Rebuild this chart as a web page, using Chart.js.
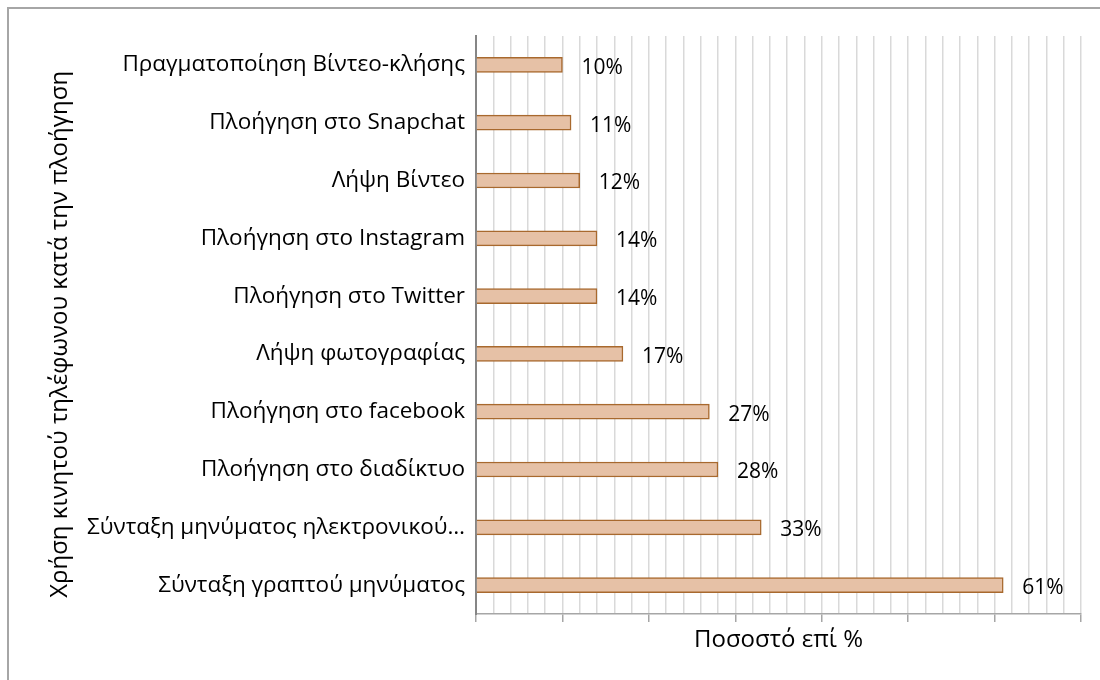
<!DOCTYPE html>
<html>
<head>
<meta charset="utf-8">
<script src="https://cdn.jsdelivr.net/npm/chart.js@4.4.1/dist/chart.umd.min.js"></script>
<style>
    body { margin: 0; background: #fff; }
    #wrap { position: relative; width: 1100px; height: 680px; overflow: hidden; }
    #frame { position: absolute; left: 7px; top: 7px; width: 1200px; height: 800px;
             border-left: 2px solid #a6a6a6; border-top: 2px solid #a6a6a6; pointer-events: none; }
</style>
</head>
<body>
<div id="wrap">
    <canvas id="chart" width="1100" height="680"></canvas>
    <div id="frame"></div>
</div>
<script>
const categories = [
    'Πραγματοποίηση Βίντεο-κλήσης',
    'Πλοήγηση στο Snapchat',
    'Λήψη Βίντεο',
    'Πλοήγηση στο Instagram',
    'Πλοήγηση στο Twitter',
    'Λήψη φωτογραφίας',
    'Πλοήγηση στο facebook',
    'Πλοήγηση στο διαδίκτυο',
    'Σύνταξη μηνύματος ηλεκτρονικού…',
    'Σύνταξη γραπτού μηνύματος'
];
const percentages = [10, 11, 12, 14, 14, 17, 27, 28, 33, 61];
const xMin = 0, xMax = 70, gridStep = 2, tickEvery = 10;

const FONT = "'Open Sans', sans-serif";

// percentage labels to the right of each bar
const valueLabels = {
    id: 'valueLabels',
    afterDatasetsDraw(chart) {
        const ctx = chart.ctx;
        const meta = chart.getDatasetMeta(0);
        ctx.save();
        ctx.font = '21px ' + FONT;
        ctx.fillStyle = '#000';
        ctx.textAlign = 'left';
        ctx.textBaseline = 'middle';
        meta.data.forEach((bar, i) => {
            ctx.fillText(percentages[i] + '%', bar.x + 19, bar.y + 3);
        });
        ctx.restore();
    }
};

const ctx = document.getElementById('chart').getContext('2d');
new Chart(ctx, {
    type: 'bar',
    data: {
        labels: categories,
        datasets: [{
            data: percentages,
            backgroundColor: '#e6c1a6',
            borderColor: '#a8692e',
            borderWidth: 1.5,
            barThickness: 15
        }]
    },
    options: {
        indexAxis: 'y',
        responsive: false,
        animation: false,
        layout: { padding: { top: 36, right: 19, bottom: 0, left: 0 } },
        plugins: {
            legend: { display: false },
            tooltip: { enabled: false }
        },
        scales: {
            x: {
                min: xMin,
                max: xMax,
                ticks: {
                    stepSize: gridStep,
                    display: false
                },
                grid: {
                    color: '#d9d9d9',
                    lineWidth: 1.5,
                    tickLength: 8,
                    tickColor: c => (c.tick && c.tick.value % tickEvery === 0) ? '#a6a6a6' : 'rgba(0,0,0,0)'
                },
                border: { color: '#a6a6a6', width: 1.5 },
                title: {
                    display: true,
                    text: 'Ποσοστό επί %',
                    font: { family: FONT, size: 24 },
                    color: '#000',
                    padding: { top: 0, bottom: 25 }
                },
                afterFit: s => { s.height = 66; }
            },
            y: {
                grid: { display: false },
                border: { color: '#868686', width: 2 },
                ticks: {
                    color: '#000',
                    padding: 3,
                    font: { family: FONT, size: 22.5 }
                },
                title: {
                    display: true,
                    // trailing spaces nudge the rotated title down a little
                    text: 'Χρήση κινητού τηλέφωνου κατά την πλοήγηση   ',
                    font: { family: FONT, size: 24 },
                    color: '#000',
                    padding: { top: 46, bottom: 0 }
                },
                afterFit: s => { s.width = 476; }
            }
        }
    },
    plugins: [valueLabels]
});
</script>
</body>
</html>
